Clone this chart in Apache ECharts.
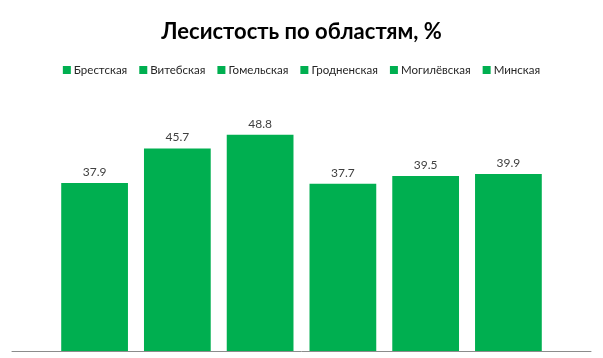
<!DOCTYPE html>
<html><head><meta charset="utf-8">
<script src="https://cdn.jsdelivr.net/npm/echarts@6/dist/echarts.min.js"></script>
<style>html,body{margin:0;padding:0;background:#fff}#c{width:603px;height:358px}</style>
</head><body><div id="c"></div>
<script>
const regions = ['Брестская','Витебская','Гомельская','Гродненская','Могилёвская','Минская'];
const values = [37.9, 45.7, 48.8, 37.7, 39.5, 39.9];
const categories = [''];
const color = '#00AF50';
const chart = echarts.init(document.getElementById('c'));
const series = regions.map((name, i) => ({
  name: name,
  type: 'bar',
  data: [values[i]],
  itemStyle: { color: color },
  barGap: '24%',
  barCategoryGap: '17%',
  label: { show: true, position: 'top', distance: 5, color: '#404040', fontFamily: 'Lato', fontSize: 12, formatter: p => p.value.toFixed(1) }
}));
chart.setOption({
  animation: false,
  title: { text: 'Лесистость по областям, %', left: 'center', top: 16, textStyle: { fontFamily: 'Lato', fontWeight: 'bold', fontSize: 22, color: '#000' } },
  legend: { top: 59, left: 'center', itemWidth: 8, itemHeight: 8, itemGap: 12, icon: 'rect', textStyle: { fontFamily: 'Lato', fontSize: 11.5, color: '#262626', padding: [0, 0, 0, -2] }, data: regions },
  grid: { left: 12, right: 12, top: 85, bottom: 7 },
  xAxis: { type: 'category', data: categories, axisLine: { lineStyle: { color: '#8c8c8c', width: 1 } }, axisTick: { show: false }, axisLabel: { show: false } },
  yAxis: { type: 'value', min: 0, max: 60, show: false, splitLine: { show: false } },
  series: series
});
</script></body></html>
